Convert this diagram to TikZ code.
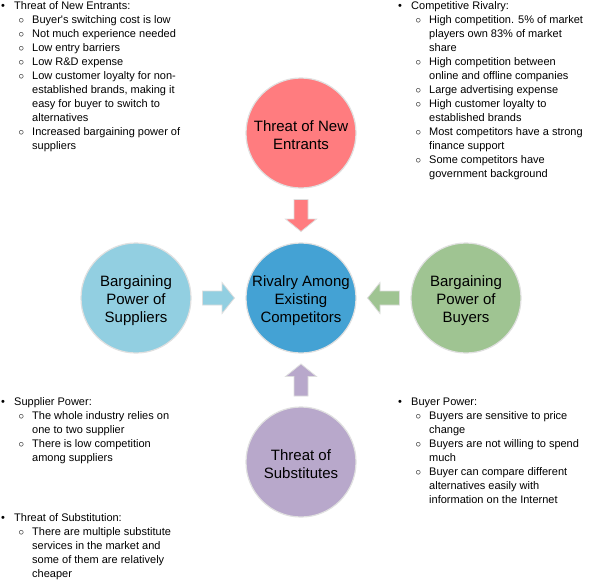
\documentclass[tikz,border=0pt]{standalone}
\usepackage{fontspec}
\setmainfont{Liberation Sans}
\usetikzlibrary{calc}
\definecolor{cTop}{HTML}{FF7C7F}
\definecolor{cMid}{HTML}{44A2D4}
\definecolor{cLeft}{HTML}{92CFE1}
\definecolor{cRight}{HTML}{9FC492}
\definecolor{cBot}{HTML}{B8A8CB}
\newenvironment{lvone}{\begin{list}{\makebox[14pt][l]{\hspace{1pt}\textbullet}}{%
  \setlength\leftmargin{14pt}\setlength\labelwidth{14pt}\setlength\labelsep{0pt}%
  \setlength\itemsep{0pt}\setlength\parsep{0pt}\setlength\topsep{0pt}%
  \setlength\partopsep{0pt}\setlength\itemindent{0pt}\setlength\listparindent{0pt}}}{\end{list}}
\newenvironment{lvtwo}{\begin{list}{\makebox[18pt][l]{\hspace{4.5pt}$\circ$}}{%
  \setlength\leftmargin{18pt}\setlength\labelwidth{18pt}\setlength\labelsep{0pt}%
  \setlength\itemsep{0pt}\setlength\parsep{0pt}\setlength\topsep{0pt}%
  \setlength\partopsep{0pt}\setlength\itemindent{0pt}\setlength\listparindent{0pt}}}{\end{list}}
\begin{document}
\begin{tikzpicture}[x=1pt,y=-1pt,
  circ/.style={circle, minimum size=110pt, inner sep=0pt, draw=black!12, line width=1.2pt,
    label={[ctext]center:#1}},
  ctext/.style={align=center, font=\fontsize{15}{18}\selectfont, text=black, yshift=-2.5pt, inner sep=0pt},
  blk/.style={anchor=base west, inner sep=0pt, font=\fontsize{11}{14}\selectfont, text=black},
  pics/fat/.style={code={\draw[line width=0.8pt, draw=black!13, fill=#1]
    (-16,-7) -- (3.5,-7) -- (3.5,-15.5) -- (16,0) -- (3.5,15.5) -- (3.5,7) -- (-16,7) -- cycle;}}]
\useasboundingbox (0,0) rectangle (595,579);
\fill[white] (0,0) rectangle (595,579);

\node[circ={Rivalry Among\\Existing\\Competitors}, fill=cMid] (mid) at (301,298) {};
\node[circ={Threat of New\\Entrants}, fill=cTop] (top) at (301,133) {};
\node[circ={Bargaining\\Power of\\Suppliers}, fill=cLeft] (left) at (136,298) {};
\node[circ={Bargaining\\Power of\\Buyers}, fill=cRight] (right) at (466,298) {};
\node[circ={Threat of\\Substitutes}, fill=cBot] (bot) at (301,462) {};

\pic[rotate=-90] at ($(top)!0.5!(mid)$) {fat=cTop};
\pic[rotate=0] at ($(left)!0.5!(mid)$) {fat=cLeft};
\pic[rotate=180] at ($(right)!0.5!(mid)$) {fat=cRight};
\pic[rotate=90] at ($(bot)!0.5!(mid)$) {fat=cBot};

\node[blk] (tl) at (0,9) {\begin{minipage}[t]{200pt}\raggedright
\begin{lvone}
\item Threat of New Entrants:
\begin{lvtwo}
\item Buyer\textquotesingle s switching cost is low
\item Not much experience needed
\item Low entry barriers
\item Low R\&D expense
\item Low customer loyalty for non-\newline established brands, making it\newline easy for buyer to switch to\newline alternatives
\item Increased bargaining power of\newline suppliers
\end{lvtwo}
\end{lvone}
\end{minipage}};

\node[blk] (tr) at (397,9) {\begin{minipage}[t]{200pt}\raggedright
\begin{lvone}
\item Competitive Rivalry:
\begin{lvtwo}
\item High competition. 5\% of market\newline players own 83\% of market\newline share
\item High competition between\newline online and offline companies
\item Large advertising expense
\item High customer loyalty to\newline established brands
\item Most competitors have a strong\newline finance support
\item Some competitors have\newline government background
\end{lvtwo}
\end{lvone}
\end{minipage}};

\node[blk] (bl) at (0,405) {\begin{minipage}[t]{200pt}\raggedright
\begin{lvone}
\item Supplier Power:
\begin{lvtwo}
\item The whole industry relies on\newline one to two supplier
\item There is low competition\newline among suppliers
\end{lvtwo}
\end{lvone}
\end{minipage}};

\node[blk] (bl2) at (0,521) {\begin{minipage}[t]{200pt}\raggedright
\begin{lvone}
\item Threat of Substitution:
\begin{lvtwo}
\item There are multiple substitute\newline services in the market and\newline some of them are relatively\newline cheaper
\end{lvtwo}
\end{lvone}
\end{minipage}};

\node[blk] (br) at (397,405) {\begin{minipage}[t]{200pt}\raggedright
\begin{lvone}
\item Buyer Power:
\begin{lvtwo}
\item Buyers are sensitive to price\newline change
\item Buyers are not willing to spend\newline much
\item Buyer can compare different\newline alternatives easily with\newline information on the Internet
\end{lvtwo}
\end{lvone}
\end{minipage}};
\end{tikzpicture}
\end{document}
